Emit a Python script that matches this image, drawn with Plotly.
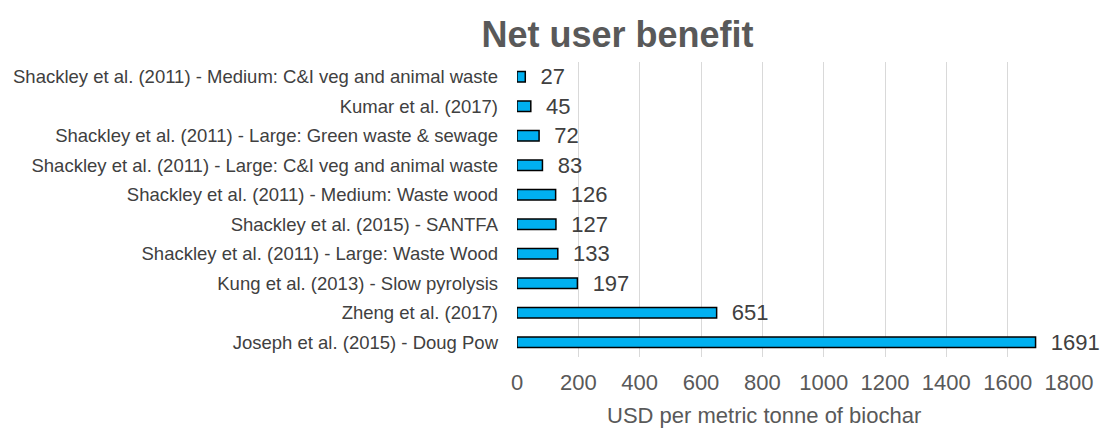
import plotly.graph_objects as go

studies = [
    "Shackley et al. (2011) - Medium: C&I veg and animal waste",
    "Kumar et al. (2017)",
    "Shackley et al. (2011) - Large: Green waste & sewage",
    "Shackley et al. (2011) - Large: C&I veg and animal waste",
    "Shackley et al. (2011) - Medium: Waste wood",
    "Shackley et al. (2015) - SANTFA",
    "Shackley et al. (2011) - Large: Waste Wood",
    "Kung et al. (2013) - Slow pyrolysis",
    "Zheng et al. (2017)",
    "Joseph et al. (2015) - Doug Pow",
]
benefit = [27, 45, 72, 83, 126, 127, 133, 197, 651, 1691]
x_ticks = [0, 200, 400, 600, 800, 1000, 1200, 1400, 1600, 1800]

FONT = "Liberation Sans, Arial"

fig = go.Figure(go.Bar(
    x=benefit,
    y=studies,
    orientation="h",
    marker=dict(color="#00B0F0", line=dict(color="black", width=1.5)),
    width=0.36,
    text=benefit,
    texttemplate="  %{text}",
    textposition="outside",
    constraintext="none",
    textfont=dict(size=22, color="#404040", family=FONT),
    cliponaxis=False,
))

fig.update_layout(
    width=1105, height=435,
    margin=dict(l=517, r=33, t=62, b=78),
    plot_bgcolor="white", paper_bgcolor="white",
    font=dict(family=FONT, color="#595959"),
    title=dict(text="<b>Net user benefit</b>", xref="container", x=617.5 / 1105, xanchor="center",
               yref="container", y=1 - 34 / 435, yanchor="middle",
               font=dict(size=36, color="#595959")),
    showlegend=False,
    bargap=0.6,
    annotations=[dict(
        text="USD per metric tonne of biochar", xref="paper", yref="paper",
        x=0.1586, y=0, xanchor="left", yanchor="middle", yshift=-58,
        showarrow=False, font=dict(size=22, color="#595959", family=FONT),
    )],
)
fig.update_xaxes(
    range=[0, 1800], tickvals=x_ticks, showgrid=True, gridcolor="#D9D9D9", gridwidth=1,
    zeroline=False, showline=False, tickfont=dict(size=22, color="#595959"),
    ticks="", ticklabelstandoff=10,
)
fig.update_yaxes(
    autorange=False, range=[-0.5, 9.5], showgrid=False, showline=False, ticks="",
    tickfont=dict(size=18.5, color="#404040"), ticklabelstandoff=18,
    categoryorder="array", categoryarray=studies[::-1], automargin=False,
)

fig.write_html("out.html", config={"displayModeBar": False},
               post_script="document.body.style.margin='0';")
